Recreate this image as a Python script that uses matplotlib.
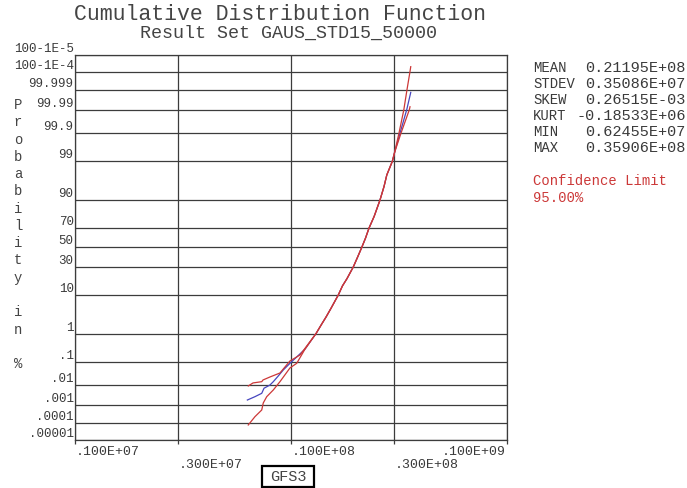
import math
import numpy as np
import matplotlib
matplotlib.use("Agg")
import matplotlib.pyplot as plt
import matplotlib.transforms as mtransforms
from matplotlib.patches import Rectangle
from matplotlib.ticker import NullLocator

plt.rcParams['font.family'] = ['Liberation Mono', 'DejaVu Sans Mono']

# --- data (x = result value, p = cumulative probability in %) ---
blue_x = [6.28e6, 6.81e6, 7.32e6, 7.50e6, 7.99e6, 8.28e6, 8.73e6, 9.21e6, 9.89e6,
          1.16e7, 1.305e7, 1.392e7, 1.452e7, 1.531e7, 1.656e7, 1.731e7, 1.816e7,
          1.943e7, 2.036e7, 2.125e7, 2.213e7, 2.297e7, 2.427e7, 2.582e7, 2.695e7,
          2.777e7, 2.945e7, 3.02e7, 3.196e7, 3.433e7, 3.584e7]
blue_p = [0.0019, 0.0028, 0.0041, 0.0072, 0.0102, 0.0145, 0.026, 0.047, 0.088,
          0.3, 1, 2, 3, 5, 10, 15, 20,
          30, 40, 50, 60, 70, 80, 90, 95,
          97.5, 99, 99.5, 99.9, 99.99, 99.9986]

red_hi_x = [6.34e6, 6.67e6, 7.32e6, 7.42e6, 7.99e6, 8.89e6, 9.89e6, 1.101e7,
            1.305e7, 1.392e7, 1.452e7, 1.531e7, 1.656e7, 1.731e7, 1.816e7,
            1.943e7, 2.036e7, 2.125e7, 2.213e7, 2.297e7, 2.427e7, 2.582e7, 2.695e7,
            2.777e7, 2.945e7, 3.02e7, 3.162e7, 3.329e7, 3.444e7, 3.556e7, 3.584e7]
red_hi_p = [0.0092, 0.0127, 0.0145, 0.0173, 0.0235, 0.035, 0.109, 0.185,
            1, 2, 3, 5, 10, 15, 20,
            30, 40, 50, 60, 70, 80, 90, 95,
            97.5, 99, 99.5, 99.9, 99.99, 99.999, 99.9999, 99.999948]

red_lo_x = [6.34e6, 6.81e6, 7.32e6, 7.44e6, 7.72e6, 8.28e6, 8.89e6, 9.89e6, 1.063e7,
            1.16e7, 1.305e7, 1.392e7, 1.452e7, 1.531e7, 1.656e7, 1.731e7, 1.816e7,
            1.943e7, 2.036e7, 2.125e7, 2.213e7, 2.297e7, 2.427e7, 2.582e7, 2.695e7,
            2.777e7, 2.945e7, 3.02e7, 3.231e7, 3.53e7, 3.556e7]
red_lo_p = [0.000082, 0.000245, 0.00057, 0.00134, 0.0028, 0.00595, 0.0145, 0.057, 0.088,
            0.3, 1, 2, 3, 5, 10, 15, 20,
            30, 40, 50, 60, 70, 80, 90, 95,
            97.5, 99, 99.5, 99.9, 99.99, 99.9928]

prob_ticks = [1e-5, 1e-4, 1e-3, 1e-2, 0.1, 1, 10, 30, 50, 70, 90, 99, 99.9, 99.99,
              99.999, 100 - 1e-4, 100 - 1e-5]
prob_labels = ['.00001', '.0001', '.001', '.01', '.1', '1', '10', '30', '50', '70',
               '90', '99', '99.9', '99.99', '99.999', '100-1E-4', '100-1E-5']

x_ticks = [1e6, 3e6, 1e7, 3e7, 1e8]
x_labels = ['.100E+07', '.300E+07', '.100E+08', '.300E+08', '.100E+09']

stat_names = ['MEAN', 'STDEV', 'SKEW', 'KURT', 'MIN', 'MAX']
stat_values = ['0.21195E+08', '0.35086E+07', '0.26515E-03', '-0.18533E+06',
               '0.62455E+07', '0.35906E+08']

RED = '#cc3838'
BLUE = '#4646bf'
GRID = '#3c3c3c'
TXT = '#3a3a3a'

# --- normal probability scale ---
_erf = np.vectorize(math.erf, otypes=[float])

def norm_cdf(z):
    return 0.5 * (1 + _erf(np.asarray(z, float) / math.sqrt(2)))

def norm_ppf(p):
    p = np.clip(np.asarray(p, float), 1e-12, 1 - 1e-12)
    lo = np.full_like(p, -8.0)
    hi = np.full_like(p, 8.0)
    for _ in range(55):
        mid = (lo + hi) / 2
        below = norm_cdf(mid) < p
        lo = np.where(below, mid, lo)
        hi = np.where(below, hi, mid)
    return (lo + hi) / 2

def fwd(pct):
    return norm_ppf(np.asarray(pct, float) / 100.0)

def inv(z):
    return 100.0 * norm_cdf(z)

W, H = 687, 488
fig = plt.figure(figsize=(W / 100, H / 100), dpi=100)
ax = fig.add_axes([75 / W, 48 / H, 432 / W, 385 / H])

ax.plot(blue_x, blue_p, color=BLUE, lw=0.9)
ax.plot(red_lo_x, red_lo_p, color=RED, lw=0.9)
ax.plot(red_hi_x, red_hi_p, color=RED, lw=0.9)

ax.set_xscale('log')
ax.set_xlim(1e6, 1e8)
ax.set_yscale('function', functions=(fwd, inv))
ax.set_ylim(1e-5, 100 - 1e-5)

ax.set_xticks(x_ticks, [''] * len(x_ticks))
ax.xaxis.set_minor_locator(NullLocator())
ax.tick_params(axis='x', length=3, width=0.9, color=GRID, direction='out')
ax.set_yticks(prob_ticks, prob_labels)
ax.yaxis.set_minor_locator(NullLocator())
ax.tick_params(axis='y', length=0, pad=1, labelsize=9, labelcolor=TXT)
for lab in ax.get_yticklabels():
    lab.set_verticalalignment('bottom')

ax.grid(True, color=GRID, lw=0.9)
ax.set_axisbelow(True)
for s in ax.spines.values():
    s.set_color(GRID)
    s.set_linewidth(0.9)

# staggered x labels
tr = mtransforms.blended_transform_factory(ax.transData, fig.transFigure)
for i, (xv, lab) in enumerate(zip(x_ticks, x_labels)):
    ypix = 452 if i % 2 == 0 else 465
    ha = 'right' if i == len(x_ticks) - 1 else 'left'
    ax.text(xv * (0.99 if ha == 'right' else 1.01), 1 - ypix / H, lab, transform=tr,
            ha=ha, va='center', fontsize=9.5, color=TXT, clip_on=False)

def ftext(x, y, s, **kw):
    return fig.text(x / W, 1 - y / H, s, **kw)

ftext(280.5, 15, 'Cumulative Distribution Function', ha='center', va='center',
      fontsize=15.5, color='#444444')
ftext(288.5, 33, 'Result Set GAUS_STD15_50000', ha='center', va='center',
      fontsize=13.2, color='#444444')

# vertical y label, one character per line
ylab = 'Probability in %'
for i, ch in enumerate(ylab):
    ftext(18, 105 + i * 17.27, ch, ha='center', va='center', fontsize=10, color='#444444')

# statistics block
for i, (nm, val) in enumerate(zip(stat_names, stat_values)):
    yy = 67.5 + i * 16.2
    ftext(533, yy, nm, ha='left', va='center', fontsize=10, color=TXT)
    ftext(686, yy, val, ha='right', va='center', fontsize=11, color=TXT)
ftext(533, 181.5, 'Confidence Limit', ha='left', va='center', fontsize=10, color=RED)
ftext(533, 197.5, '95.00%', ha='left', va='center', fontsize=10, color=RED)

# GFS3 box
fig.patches.append(Rectangle((262 / W, 1 - 487 / H), 52 / W, 21 / H,
                             transform=fig.transFigure, fill=False, ec='black', lw=1.6))
ftext(288, 477, 'GFS3', ha='center', va='center', fontsize=11, color='#444444')

fig.savefig('out.png', dpi=100)
